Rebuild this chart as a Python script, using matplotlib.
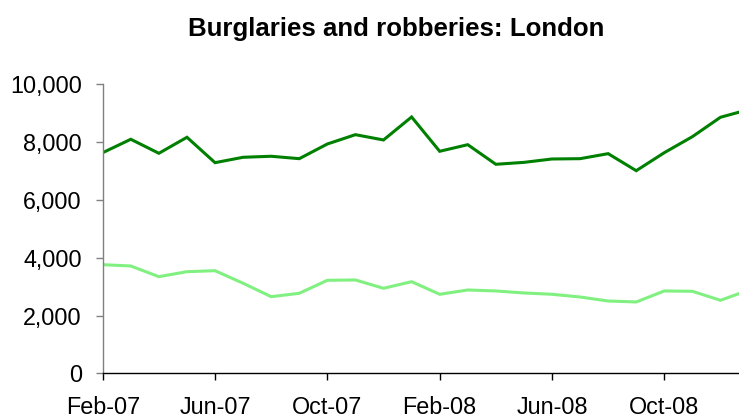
import matplotlib
matplotlib.use("Agg")
import matplotlib.pyplot as plt
from matplotlib.ticker import FuncFormatter
import numpy as np

plt.rcParams['font.family'] = ['Liberation Sans', 'DejaVu Sans']

# Monthly counts, Feb-07 onward
months = ["Feb-07", "Mar-07", "Apr-07", "May-07", "Jun-07", "Jul-07", "Aug-07", "Sep-07",
          "Oct-07", "Nov-07", "Dec-07", "Jan-08", "Feb-08", "Mar-08", "Apr-08", "May-08",
          "Jun-08", "Jul-08", "Aug-08", "Sep-08", "Oct-08", "Nov-08", "Dec-08", "Jan-09"]
burglaries = [7627, 8090, 7606, 8159, 7282, 7468, 7503, 7420,
              7927, 8249, 8066, 8860, 7675, 7903, 7226, 7292,
              7409, 7420, 7593, 7005, 7627, 8180, 8850, 9116]
robberies = [3758, 3713, 3344, 3516, 3551, 3116, 2653, 2770,
             3219, 3230, 2943, 3171, 2736, 2884, 2850, 2781,
             2736, 2642, 2504, 2470, 2850, 2839, 2528, 2877]
tick_labels = ["Feb-07", "Jun-07", "Oct-07", "Feb-08", "Jun-08", "Oct-08"]

x = np.arange(len(months))

fig = plt.figure(figsize=(7.39, 4.18), dpi=100)
ax = fig.add_axes([0.139, 0.1065, 0.861, 0.6926])

ax.plot(x, burglaries, color='#008000', lw=2.2, solid_joinstyle='miter')
ax.plot(x, robberies, color='#80F080', lw=2.2, solid_joinstyle='miter')

ax.set_ylim(0, 10000)
ax.set_xlim(0, 22.66)
ax.set_yticks(np.arange(0, 10001, 2000))
ax.yaxis.set_major_formatter(FuncFormatter(lambda v, p: f"{int(v):,}"))
ax.set_xticks([months.index(m) for m in tick_labels])
ax.set_xticklabels(tick_labels)

for s in ['top', 'right']:
    ax.spines[s].set_visible(False)
ax.spines['left'].set_color('#808080')
ax.spines['left'].set_linewidth(1.0)
ax.spines['bottom'].set_color('black')
ax.spines['bottom'].set_linewidth(1.0)

ax.tick_params(axis='y', direction='out', length=5, width=1, color='#808080',
               labelsize=16.8, pad=10, labelcolor='black')
ax.tick_params(axis='x', direction='out', length=5, width=1, color='black',
               labelsize=16.8, pad=11, labelcolor='black')

fig.text(0.536, 0.915, "Burglaries and robberies: London", ha='center', va='baseline',
         fontsize=18.6, fontweight='bold')

fig.savefig("out.png", dpi=100)
